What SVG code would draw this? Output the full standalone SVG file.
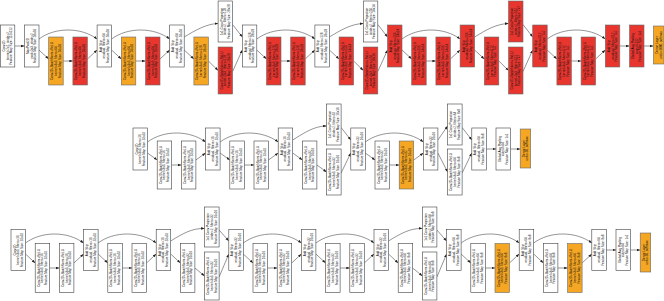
<svg xmlns="http://www.w3.org/2000/svg" width="664" height="301" viewBox="0 0 664 301">
<style>
text{font-family:"Liberation Sans",Arial,sans-serif;font-size:3.1px;text-anchor:middle;dominant-baseline:central;fill:#111}
.w>rect{fill:#fff;stroke:#404040;stroke-width:.6}
.o>rect{fill:#f5a623;stroke:#6a6a6a;stroke-width:.6}
.r>rect{fill:#e8362f;stroke:#6a6a6a;stroke-width:.6}
#edges path{fill:none;stroke:#2a2a2a;stroke-width:.5;marker-end:url(#ah)}
</style>
<defs>
<marker id="ah" markerUnits="userSpaceOnUse" markerWidth="4" markerHeight="3" refX="3.5" refY="1.5" orient="auto"><path d="M0,0.2 L3.5,1.5 L0,2.8z" fill="#222"/></marker>
</defs>
<rect width="664" height="301" fill="#fff"/>
<g id="edges">
<path d="M14.8,46 L24.5,46"/>
<path d="M39,39 C55,27 81,27 97.1,39"/>
<path d="M39,50 L48.7,59"/>
<path d="M63.2,61 L72.9,61"/>
<path d="M87.4,59 L97.1,50"/>
<path d="M111.6,39 C127.6,27 153.7,27 169.7,39"/>
<path d="M111.6,50 L121.3,59"/>
<path d="M135.8,61 L145.5,61"/>
<path d="M160,59 L169.7,50"/>
<path d="M184.2,37 C196,30 206,24 218.1,23.5"/>
<path d="M184.2,50 L193.9,59"/>
<path d="M208.4,61 L218.1,70.5"/>
<path d="M232.6,24.5 L242.3,37"/>
<path d="M232.6,71.5 L242.3,50"/>
<path d="M256.8,39 C272.8,27 298.9,27 314.9,39"/>
<path d="M256.8,50 L266.5,59"/>
<path d="M281,61 L290.7,61"/>
<path d="M305.2,59 L314.9,50"/>
<path d="M329.4,37 C341,30 351,24 363.3,23.5"/>
<path d="M329.4,50 L339.1,59"/>
<path d="M353.6,61 L363.3,70.5"/>
<path d="M377.8,24.5 L387.5,37"/>
<path d="M377.8,71.5 L387.5,50"/>
<path d="M402,39 C418,27 444.1,27 460.1,39"/>
<path d="M402,50 L411.7,59"/>
<path d="M426.2,61 L435.9,61"/>
<path d="M450.4,59 L460.1,50"/>
<path d="M474.6,37 C486,30 496,24 508.5,23.5"/>
<path d="M474.6,50 L484.3,59"/>
<path d="M498.8,61 L508.5,70.5"/>
<path d="M523,24.5 L532.7,37"/>
<path d="M523,71.5 L532.7,50"/>
<path d="M547.2,39 C563.2,27 589.3,27 605.3,39"/>
<path d="M547.2,50 L556.9,59"/>
<path d="M571.4,61 L581.1,61"/>
<path d="M595.6,59 L605.3,50"/>
<path d="M619.8,46 L629.5,46"/>
<path d="M644,46 L653.45,46"/>

<path d="M147.5,142 C163.5,130 189.6,130 205.6,142"/>
<path d="M147.5,153 L157.2,160"/>
<path d="M171.7,165 L181.4,165"/>
<path d="M195.9,160 L205.6,153"/>
<path d="M220.1,142 C236.1,130 262.2,130 278.2,142"/>
<path d="M220.1,153 L229.8,160"/>
<path d="M244.3,165 L254,165"/>
<path d="M268.5,160 L278.2,153"/>
<path d="M292.7,140 C304,133 314,126 326.6,126"/>
<path d="M292.7,153 L302.4,160"/>
<path d="M316.9,165 L326.6,172"/>
<path d="M341.1,127.5 L350.8,140"/>
<path d="M341.1,173 L350.8,153"/>
<path d="M365.3,142 C381.3,130 407.4,130 423.4,142"/>
<path d="M365.3,153 L375,160"/>
<path d="M389.5,165 L399.2,165"/>
<path d="M413.7,160 L423.4,153"/>
<path d="M437.9,140 L447.6,126"/>
<path d="M437.9,153 L447.6,172"/>
<path d="M462.1,127.5 L471.8,140"/>
<path d="M462.1,173 L471.8,153"/>
<path d="M486.3,149 L496,149"/>
<path d="M510.5,149 L520.2,149"/>

<path d="M25.5,243 C41.5,231 67.6,231 83.6,243"/>
<path d="M25.5,254 L35.2,263"/>
<path d="M49.7,268 L59.4,268"/>
<path d="M73.9,263 L83.6,254"/>
<path d="M98.1,243 C114.1,231 140.2,231 156.2,243"/>
<path d="M98.1,254 L107.8,263"/>
<path d="M122.3,268 L132,268"/>
<path d="M146.5,263 L156.2,254"/>
<path d="M170.7,241 C182,234 192,228 204.6,228.5"/>
<path d="M170.7,254 L180.4,263"/>
<path d="M194.9,268 L204.6,276"/>
<path d="M219.1,230 L228.8,241"/>
<path d="M219.1,277 L228.8,254"/>
<path d="M243.3,243 C259.3,231 285.4,231 301.4,243"/>
<path d="M243.3,254 L253,263"/>
<path d="M267.5,268 L277.2,268"/>
<path d="M291.7,263 L301.4,254"/>
<path d="M315.9,243 C331.9,231 358,231 374,243"/>
<path d="M315.9,254 L325.6,263"/>
<path d="M340.1,268 L349.8,268"/>
<path d="M364.3,263 L374,254"/>
<path d="M388.5,241 C400,234 410,228 422.4,228.5"/>
<path d="M388.5,254 L398.2,263"/>
<path d="M412.7,268 L422.4,276"/>
<path d="M436.9,230 L446.6,241"/>
<path d="M436.9,277 L446.6,254"/>
<path d="M461.1,243 C477.1,231 503.2,231 519.2,243"/>
<path d="M461.1,254 L470.8,263"/>
<path d="M485.3,268 L495,268"/>
<path d="M509.5,263 L519.2,254"/>
<path d="M533.7,243 C549.7,231 575.8,231 591.8,243"/>
<path d="M533.7,254 L543.4,263"/>
<path d="M557.9,268 L567.6,268"/>
<path d="M582.1,263 L591.8,254"/>
<path d="M606.3,250 L616,250"/>
<path d="M630.5,250 L640.2,250"/>
</g>

<g id="t1" class="w" transform="translate(7.55,46)"><rect x="-7.25" y="-21" width="14.5" height="42"/><g transform="rotate(-90)"><text y="-3.7">Conv2D</text><text>kernel=7x7, stride=2</text><text y="3.7">Feature Map Size: 112x112</text></g></g>
<g id="t2" class="w" transform="translate(31.75,46)"><rect x="-7.25" y="-21" width="14.5" height="42"/><g transform="rotate(-90)"><text y="-3.7">MaxPool2D</text><text>pool=3x3, stride=2</text><text y="3.7">Feature Map Size: 56x56</text></g></g>
<g id="t3" class="o" transform="translate(55.95,61)"><rect x="-7.25" y="-24" width="14.5" height="48"/><g transform="rotate(-90)"><text y="-3.7">Conv2D+BatchNorm+ReLU</text><text>kernel=3x3, filters=64</text><text y="3.7">Feature Map Size: 56x56</text></g></g>
<g id="t4" class="r" transform="translate(80.15,61)"><rect x="-7.25" y="-24" width="14.5" height="48"/><g transform="rotate(-90)"><text y="-3.7">Conv2D+BatchNorm+ReLU</text><text>kernel=3x3, filters=64</text><text y="3.7">Feature Map Size: 56x56</text></g></g>
<g id="t5" class="w" transform="translate(104.35,46)"><rect x="-7.25" y="-21" width="14.5" height="42"/><g transform="rotate(-90)"><text y="-3.7">Add Skip</text><text>residual, filters=64</text><text y="3.7">Feature Map Size: 56x56</text></g></g>
<g id="t6" class="o" transform="translate(128.55,61)"><rect x="-7.25" y="-24" width="14.5" height="48"/><g transform="rotate(-90)"><text y="-3.7">Conv2D+BatchNorm+ReLU</text><text>kernel=3x3, filters=64</text><text y="3.7">Feature Map Size: 56x56</text></g></g>
<g id="t7" class="r" transform="translate(152.75,61)"><rect x="-7.25" y="-24" width="14.5" height="48"/><g transform="rotate(-90)"><text y="-3.7">Conv2D+BatchNorm+ReLU</text><text>kernel=3x3, filters=64</text><text y="3.7">Feature Map Size: 56x56</text></g></g>
<g id="t8" class="w" transform="translate(176.95,46)"><rect x="-7.25" y="-21" width="14.5" height="42"/><g transform="rotate(-90)"><text y="-3.7">Add Skip</text><text>residual, filters=64</text><text y="3.7">Feature Map Size: 56x56</text></g></g>
<g id="t9" class="o" transform="translate(201.15,61)"><rect x="-7.25" y="-24" width="14.5" height="48"/><g transform="rotate(-90)"><text y="-3.7">Conv2D+BatchNorm+ReLU</text><text>kernel=3x3, filters=128</text><text y="3.7">Feature Map Size: 28x28</text></g></g>
<g id="t10" class="w" transform="translate(225.35,21.5)"><rect x="-7.25" y="-20.5" width="14.5" height="41"/><g transform="rotate(-90)"><text y="-3.7">1x1 Conv Projection</text><text>stride=2, filters=128</text><text y="3.7">Feature Map Size: 28x28</text></g></g>
<g id="t11" class="r" transform="translate(225.35,70.5)"><rect x="-7.25" y="-23.5" width="14.5" height="47"/><g transform="rotate(-90)"><text y="-3.7">Conv2D+BatchNorm+ReLU</text><text>kernel=3x3, filters=128</text><text y="3.7">Feature Map Size: 28x28</text></g></g>
<g id="t12" class="w" transform="translate(249.55,46)"><rect x="-7.25" y="-21" width="14.5" height="42"/><g transform="rotate(-90)"><text y="-3.7">Add Skip</text><text>residual, filters=128</text><text y="3.7">Feature Map Size: 28x28</text></g></g>
<g id="t13" class="r" transform="translate(273.75,61)"><rect x="-7.25" y="-24" width="14.5" height="48"/><g transform="rotate(-90)"><text y="-3.7">Conv2D+BatchNorm+ReLU</text><text>kernel=3x3, filters=128</text><text y="3.7">Feature Map Size: 28x28</text></g></g>
<g id="t14" class="r" transform="translate(297.95,61)"><rect x="-7.25" y="-24" width="14.5" height="48"/><g transform="rotate(-90)"><text y="-3.7">Conv2D+BatchNorm+ReLU</text><text>kernel=3x3, filters=128</text><text y="3.7">Feature Map Size: 28x28</text></g></g>
<g id="t15" class="w" transform="translate(322.15,46)"><rect x="-7.25" y="-21" width="14.5" height="42"/><g transform="rotate(-90)"><text y="-3.7">Add Skip</text><text>residual, filters=128</text><text y="3.7">Feature Map Size: 28x28</text></g></g>
<g id="t16" class="r" transform="translate(346.35,61)"><rect x="-7.25" y="-24" width="14.5" height="48"/><g transform="rotate(-90)"><text y="-3.7">Conv2D+BatchNorm+ReLU</text><text>kernel=3x3, filters=256</text><text y="3.7">Feature Map Size: 14x14</text></g></g>
<g id="t17" class="w" transform="translate(370.55,21.5)"><rect x="-7.25" y="-20.5" width="14.5" height="41"/><g transform="rotate(-90)"><text y="-3.7">1x1 Conv Projection</text><text>stride=2, filters=256</text><text y="3.7">Feature Map Size: 14x14</text></g></g>
<g id="t18" class="r" transform="translate(370.55,70.5)"><rect x="-7.25" y="-23.5" width="14.5" height="47"/><g transform="rotate(-90)"><text y="-3.7">Conv2D+BatchNorm+ReLU</text><text>kernel=3x3, filters=256</text><text y="3.7">Feature Map Size: 14x14</text></g></g>
<g id="t19" class="r" transform="translate(394.75,46)"><rect x="-7.25" y="-21" width="14.5" height="42"/><g transform="rotate(-90)"><text y="-3.7">Add Skip</text><text>residual, filters=256</text><text y="3.7">Feature Map Size: 14x14</text></g></g>
<g id="t20" class="r" transform="translate(418.95,61)"><rect x="-7.25" y="-24" width="14.5" height="48"/><g transform="rotate(-90)"><text y="-3.7">Conv2D+BatchNorm+ReLU</text><text>kernel=3x3, filters=256</text><text y="3.7">Feature Map Size: 14x14</text></g></g>
<g id="t21" class="r" transform="translate(443.15,61)"><rect x="-7.25" y="-24" width="14.5" height="48"/><g transform="rotate(-90)"><text y="-3.7">Conv2D+BatchNorm+ReLU</text><text>kernel=3x3, filters=256</text><text y="3.7">Feature Map Size: 14x14</text></g></g>
<g id="t22" class="r" transform="translate(467.35,46)"><rect x="-7.25" y="-21" width="14.5" height="42"/><g transform="rotate(-90)"><text y="-3.7">Add Skip</text><text>residual, filters=256</text><text y="3.7">Feature Map Size: 14x14</text></g></g>
<g id="t23" class="r" transform="translate(491.55,61)"><rect x="-7.25" y="-24" width="14.5" height="48"/><g transform="rotate(-90)"><text y="-3.7">Conv2D+BatchNorm+ReLU</text><text>kernel=3x3, filters=512</text><text y="3.7">Feature Map Size: 7x7</text></g></g>
<g id="t24" class="r" transform="translate(515.75,21.5)"><rect x="-7.25" y="-20.5" width="14.5" height="41"/><g transform="rotate(-90)"><text y="-3.7">1x1 Conv Projection</text><text>stride=2, filters=512</text><text y="3.7">Feature Map Size: 7x7</text></g></g>
<g id="t25" class="r" transform="translate(515.75,70.5)"><rect x="-7.25" y="-23.5" width="14.5" height="47"/><g transform="rotate(-90)"><text y="-3.7">Conv2D+BatchNorm+ReLU</text><text>kernel=3x3, filters=512</text><text y="3.7">Feature Map Size: 7x7</text></g></g>
<g id="t26" class="r" transform="translate(539.95,46)"><rect x="-7.25" y="-21" width="14.5" height="42"/><g transform="rotate(-90)"><text y="-3.7">Add Skip</text><text>residual, filters=512</text><text y="3.7">Feature Map Size: 7x7</text></g></g>
<g id="t27" class="r" transform="translate(564.15,61)"><rect x="-7.25" y="-24" width="14.5" height="48"/><g transform="rotate(-90)"><text y="-3.7">Conv2D+BatchNorm+ReLU</text><text>kernel=3x3, filters=512</text><text y="3.7">Feature Map Size: 7x7</text></g></g>
<g id="t28" class="r" transform="translate(588.35,61)"><rect x="-7.25" y="-24" width="14.5" height="48"/><g transform="rotate(-90)"><text y="-3.7">Conv2D+BatchNorm+ReLU</text><text>kernel=3x3, filters=512</text><text y="3.7">Feature Map Size: 7x7</text></g></g>
<g id="t29" class="r" transform="translate(612.55,46)"><rect x="-7.25" y="-21" width="14.5" height="42"/><g transform="rotate(-90)"><text y="-3.7">Add Skip</text><text>residual, filters=512</text><text y="3.7">Feature Map Size: 7x7</text></g></g>
<g id="t30" class="r" transform="translate(636.75,46)"><rect x="-7.25" y="-21" width="14.5" height="42"/><g transform="rotate(-90)"><text y="-3.7">Global Avg Pooling</text><text>output=512</text><text y="3.7">Feature Map Size: 1x1</text></g></g>
<g id="t31" class="o" transform="translate(658.7,45)"><rect x="-5.25" y="-19" width="10.5" height="38"/><g transform="rotate(-90)"><text y="-1.85">Dense Layer</text><text y="1.85">units=1000, softmax</text></g></g>

<g id="m1" class="w" transform="translate(140.25,149)"><rect x="-7.25" y="-21" width="14.5" height="42"/><g transform="rotate(-90)"><text y="-3.7">Conv2D</text><text>kernel=3x3, filters=16</text><text y="3.7">Feature Map Size: 32x32</text></g></g>
<g id="m2" class="w" transform="translate(164.45,165)"><rect x="-7.25" y="-24" width="14.5" height="48"/><g transform="rotate(-90)"><text y="-3.7">Conv2D+BatchNorm+ReLU</text><text>kernel=3x3, filters=16</text><text y="3.7">Feature Map Size: 32x32</text></g></g>
<g id="m3" class="w" transform="translate(188.65,165)"><rect x="-7.25" y="-24" width="14.5" height="48"/><g transform="rotate(-90)"><text y="-3.7">Conv2D+BatchNorm+ReLU</text><text>kernel=3x3, filters=16</text><text y="3.7">Feature Map Size: 32x32</text></g></g>
<g id="m4" class="w" transform="translate(212.85,149)"><rect x="-7.25" y="-21" width="14.5" height="42"/><g transform="rotate(-90)"><text y="-3.7">Add Skip</text><text>residual, filters=16</text><text y="3.7">Feature Map Size: 32x32</text></g></g>
<g id="m5" class="w" transform="translate(237.05,165)"><rect x="-7.25" y="-24" width="14.5" height="48"/><g transform="rotate(-90)"><text y="-3.7">Conv2D+BatchNorm+ReLU</text><text>kernel=3x3, filters=16</text><text y="3.7">Feature Map Size: 32x32</text></g></g>
<g id="m6" class="w" transform="translate(261.25,165)"><rect x="-7.25" y="-24" width="14.5" height="48"/><g transform="rotate(-90)"><text y="-3.7">Conv2D+BatchNorm+ReLU</text><text>kernel=3x3, filters=16</text><text y="3.7">Feature Map Size: 32x32</text></g></g>
<g id="m7" class="w" transform="translate(285.45,149)"><rect x="-7.25" y="-21" width="14.5" height="42"/><g transform="rotate(-90)"><text y="-3.7">Add Skip</text><text>residual, filters=16</text><text y="3.7">Feature Map Size: 32x32</text></g></g>
<g id="m8" class="w" transform="translate(309.65,165)"><rect x="-7.25" y="-24" width="14.5" height="48"/><g transform="rotate(-90)"><text y="-3.7">Conv2D+BatchNorm+ReLU</text><text>kernel=3x3, filters=32</text><text y="3.7">Feature Map Size: 16x16</text></g></g>
<g id="m9" class="w" transform="translate(333.85,124.5)"><rect x="-7.25" y="-20.5" width="14.5" height="41"/><g transform="rotate(-90)"><text y="-3.7">1x1 Conv Projection</text><text>stride=2, filters=32</text><text y="3.7">Feature Map Size: 16x16</text></g></g>
<g id="m10" class="w" transform="translate(333.85,172)"><rect x="-7.25" y="-23" width="14.5" height="46"/><g transform="rotate(-90)"><text y="-3.7">Conv2D+BatchNorm+ReLU</text><text>kernel=3x3, filters=32</text><text y="3.7">Feature Map Size: 16x16</text></g></g>
<g id="m11" class="w" transform="translate(358.05,149)"><rect x="-7.25" y="-21" width="14.5" height="42"/><g transform="rotate(-90)"><text y="-3.7">Add Skip</text><text>residual, filters=32</text><text y="3.7">Feature Map Size: 16x16</text></g></g>
<g id="m12" class="w" transform="translate(382.25,165)"><rect x="-7.25" y="-24" width="14.5" height="48"/><g transform="rotate(-90)"><text y="-3.7">Conv2D+BatchNorm+ReLU</text><text>kernel=3x3, filters=32</text><text y="3.7">Feature Map Size: 16x16</text></g></g>
<g id="m13" class="o" transform="translate(406.45,165)"><rect x="-7.25" y="-24" width="14.5" height="48"/><g transform="rotate(-90)"><text y="-3.7">Conv2D+BatchNorm+ReLU</text><text>kernel=3x3, filters=32</text><text y="3.7">Feature Map Size: 16x16</text></g></g>
<g id="m14" class="w" transform="translate(430.65,149)"><rect x="-7.25" y="-21" width="14.5" height="42"/><g transform="rotate(-90)"><text y="-3.7">Add Skip</text><text>residual, filters=32</text><text y="3.7">Feature Map Size: 16x16</text></g></g>
<g id="m15" class="w" transform="translate(454.85,124.5)"><rect x="-7.25" y="-20.5" width="14.5" height="41"/><g transform="rotate(-90)"><text y="-3.7">1x1 Conv Projection</text><text>stride=2, filters=64</text><text y="3.7">Feature Map Size: 8x8</text></g></g>
<g id="m16" class="w" transform="translate(454.85,172)"><rect x="-7.25" y="-23" width="14.5" height="46"/><g transform="rotate(-90)"><text y="-3.7">Conv2D+BatchNorm+ReLU</text><text>kernel=3x3, filters=64</text><text y="3.7">Feature Map Size: 8x8</text></g></g>
<g id="m17" class="w" transform="translate(479.05,149)"><rect x="-7.25" y="-21" width="14.5" height="42"/><g transform="rotate(-90)"><text y="-3.7">Add Skip</text><text>residual, filters=64</text><text y="3.7">Feature Map Size: 8x8</text></g></g>
<g id="m18" class="w" transform="translate(503.25,149)"><rect x="-7.25" y="-21" width="14.5" height="42"/><g transform="rotate(-90)"><text y="-3.7">Global Avg Pooling</text><text>output=64</text><text y="3.7">Feature Map Size: 1x1</text></g></g>
<g id="m19" class="o" transform="translate(525.45,148.5)"><rect x="-5.25" y="-19.5" width="10.5" height="39"/><g transform="rotate(-90)"><text y="-1.85">Dense Layer</text><text y="1.85">units=10, softmax</text></g></g>

<g id="b1" class="w" transform="translate(18.25,250)"><rect x="-7.25" y="-20.5" width="14.5" height="41"/><g transform="rotate(-90)"><text y="-3.7">Conv2D</text><text>kernel=3x3, filters=16</text><text y="3.7">Feature Map Size: 32x32</text></g></g>
<g id="b2" class="w" transform="translate(42.45,268)"><rect x="-7.25" y="-24.5" width="14.5" height="49"/><g transform="rotate(-90)"><text y="-3.7">Conv2D+BatchNorm+ReLU</text><text>kernel=3x3, filters=16</text><text y="3.7">Feature Map Size: 32x32</text></g></g>
<g id="b3" class="w" transform="translate(66.65,268)"><rect x="-7.25" y="-24.5" width="14.5" height="49"/><g transform="rotate(-90)"><text y="-3.7">Conv2D+BatchNorm+ReLU</text><text>kernel=3x3, filters=16</text><text y="3.7">Feature Map Size: 32x32</text></g></g>
<g id="b4" class="w" transform="translate(90.85,250)"><rect x="-7.25" y="-20.5" width="14.5" height="41"/><g transform="rotate(-90)"><text y="-3.7">Add Skip</text><text>residual, filters=16</text><text y="3.7">Feature Map Size: 32x32</text></g></g>
<g id="b5" class="w" transform="translate(115.05,268)"><rect x="-7.25" y="-24.5" width="14.5" height="49"/><g transform="rotate(-90)"><text y="-3.7">Conv2D+BatchNorm+ReLU</text><text>kernel=3x3, filters=16</text><text y="3.7">Feature Map Size: 32x32</text></g></g>
<g id="b6" class="w" transform="translate(139.25,268)"><rect x="-7.25" y="-24.5" width="14.5" height="49"/><g transform="rotate(-90)"><text y="-3.7">Conv2D+BatchNorm+ReLU</text><text>kernel=3x3, filters=16</text><text y="3.7">Feature Map Size: 32x32</text></g></g>
<g id="b7" class="w" transform="translate(163.45,250)"><rect x="-7.25" y="-20.5" width="14.5" height="41"/><g transform="rotate(-90)"><text y="-3.7">Add Skip</text><text>residual, filters=16</text><text y="3.7">Feature Map Size: 32x32</text></g></g>
<g id="b8" class="w" transform="translate(187.65,268)"><rect x="-7.25" y="-24.5" width="14.5" height="49"/><g transform="rotate(-90)"><text y="-3.7">Conv2D+BatchNorm+ReLU</text><text>kernel=3x3, filters=32</text><text y="3.7">Feature Map Size: 16x16</text></g></g>
<g id="b9" class="w" transform="translate(211.85,227)"><rect x="-7.25" y="-20" width="14.5" height="40"/><g transform="rotate(-90)"><text y="-3.7">1x1 Conv Projection</text><text>stride=2, filters=32</text><text y="3.7">Feature Map Size: 16x16</text></g></g>
<g id="b10" class="w" transform="translate(211.85,276)"><rect x="-7.25" y="-24" width="14.5" height="48"/><g transform="rotate(-90)"><text y="-3.7">Conv2D+BatchNorm+ReLU</text><text>kernel=3x3, filters=32</text><text y="3.7">Feature Map Size: 16x16</text></g></g>
<g id="b11" class="w" transform="translate(236.05,250)"><rect x="-7.25" y="-20.5" width="14.5" height="41"/><g transform="rotate(-90)"><text y="-3.7">Add Skip</text><text>residual, filters=32</text><text y="3.7">Feature Map Size: 16x16</text></g></g>
<g id="b12" class="w" transform="translate(260.25,268)"><rect x="-7.25" y="-24.5" width="14.5" height="49"/><g transform="rotate(-90)"><text y="-3.7">Conv2D+BatchNorm+ReLU</text><text>kernel=3x3, filters=32</text><text y="3.7">Feature Map Size: 16x16</text></g></g>
<g id="b13" class="w" transform="translate(284.45,268)"><rect x="-7.25" y="-24.5" width="14.5" height="49"/><g transform="rotate(-90)"><text y="-3.7">Conv2D+BatchNorm+ReLU</text><text>kernel=3x3, filters=32</text><text y="3.7">Feature Map Size: 16x16</text></g></g>
<g id="b14" class="w" transform="translate(308.65,250)"><rect x="-7.25" y="-20.5" width="14.5" height="41"/><g transform="rotate(-90)"><text y="-3.7">Add Skip</text><text>residual, filters=32</text><text y="3.7">Feature Map Size: 16x16</text></g></g>
<g id="b15" class="w" transform="translate(332.85,268)"><rect x="-7.25" y="-24.5" width="14.5" height="49"/><g transform="rotate(-90)"><text y="-3.7">Conv2D+BatchNorm+ReLU</text><text>kernel=3x3, filters=32</text><text y="3.7">Feature Map Size: 16x16</text></g></g>
<g id="b16" class="w" transform="translate(357.05,268)"><rect x="-7.25" y="-24.5" width="14.5" height="49"/><g transform="rotate(-90)"><text y="-3.7">Conv2D+BatchNorm+ReLU</text><text>kernel=3x3, filters=32</text><text y="3.7">Feature Map Size: 16x16</text></g></g>
<g id="b17" class="w" transform="translate(381.25,250)"><rect x="-7.25" y="-20.5" width="14.5" height="41"/><g transform="rotate(-90)"><text y="-3.7">Add Skip</text><text>residual, filters=32</text><text y="3.7">Feature Map Size: 16x16</text></g></g>
<g id="b18" class="w" transform="translate(405.45,268)"><rect x="-7.25" y="-24.5" width="14.5" height="49"/><g transform="rotate(-90)"><text y="-3.7">Conv2D+BatchNorm+ReLU</text><text>kernel=3x3, filters=64</text><text y="3.7">Feature Map Size: 8x8</text></g></g>
<g id="b19" class="w" transform="translate(429.65,227)"><rect x="-7.25" y="-20" width="14.5" height="40"/><g transform="rotate(-90)"><text y="-3.7">1x1 Conv Projection</text><text>stride=2, filters=64</text><text y="3.7">Feature Map Size: 8x8</text></g></g>
<g id="b20" class="w" transform="translate(429.65,276)"><rect x="-7.25" y="-24" width="14.5" height="48"/><g transform="rotate(-90)"><text y="-3.7">Conv2D+BatchNorm+ReLU</text><text>kernel=3x3, filters=64</text><text y="3.7">Feature Map Size: 8x8</text></g></g>
<g id="b21" class="w" transform="translate(453.85,250)"><rect x="-7.25" y="-20.5" width="14.5" height="41"/><g transform="rotate(-90)"><text y="-3.7">Add Skip</text><text>residual, filters=64</text><text y="3.7">Feature Map Size: 8x8</text></g></g>
<g id="b22" class="w" transform="translate(478.05,268)"><rect x="-7.25" y="-24.5" width="14.5" height="49"/><g transform="rotate(-90)"><text y="-3.7">Conv2D+BatchNorm+ReLU</text><text>kernel=3x3, filters=64</text><text y="3.7">Feature Map Size: 8x8</text></g></g>
<g id="b23" class="o" transform="translate(502.25,268)"><rect x="-7.25" y="-24.5" width="14.5" height="49"/><g transform="rotate(-90)"><text y="-3.7">Conv2D+BatchNorm+ReLU</text><text>kernel=3x3, filters=64</text><text y="3.7">Feature Map Size: 8x8</text></g></g>
<g id="b24" class="w" transform="translate(526.45,250)"><rect x="-7.25" y="-20.5" width="14.5" height="41"/><g transform="rotate(-90)"><text y="-3.7">Add Skip</text><text>residual, filters=64</text><text y="3.7">Feature Map Size: 8x8</text></g></g>
<g id="b25" class="w" transform="translate(550.65,268)"><rect x="-7.25" y="-24.5" width="14.5" height="49"/><g transform="rotate(-90)"><text y="-3.7">Conv2D+BatchNorm+ReLU</text><text>kernel=3x3, filters=64</text><text y="3.7">Feature Map Size: 8x8</text></g></g>
<g id="b26" class="o" transform="translate(574.85,268)"><rect x="-7.25" y="-24.5" width="14.5" height="49"/><g transform="rotate(-90)"><text y="-3.7">Conv2D+BatchNorm+ReLU</text><text>kernel=3x3, filters=64</text><text y="3.7">Feature Map Size: 8x8</text></g></g>
<g id="b27" class="w" transform="translate(599.05,250)"><rect x="-7.25" y="-20.5" width="14.5" height="41"/><g transform="rotate(-90)"><text y="-3.7">Add Skip</text><text>residual, filters=64</text><text y="3.7">Feature Map Size: 8x8</text></g></g>
<g id="b28" class="w" transform="translate(623.25,250)"><rect x="-7.25" y="-20.5" width="14.5" height="41"/><g transform="rotate(-90)"><text y="-3.7">Global Avg Pooling</text><text>output=64</text><text y="3.7">Feature Map Size: 1x1</text></g></g>
<g id="b29" class="o" transform="translate(645.45,252.5)"><rect x="-5.25" y="-19.5" width="10.5" height="39"/><g transform="rotate(-90)"><text y="-1.85">Dense Layer</text><text y="1.85">units=10, softmax</text></g></g>
</svg>
